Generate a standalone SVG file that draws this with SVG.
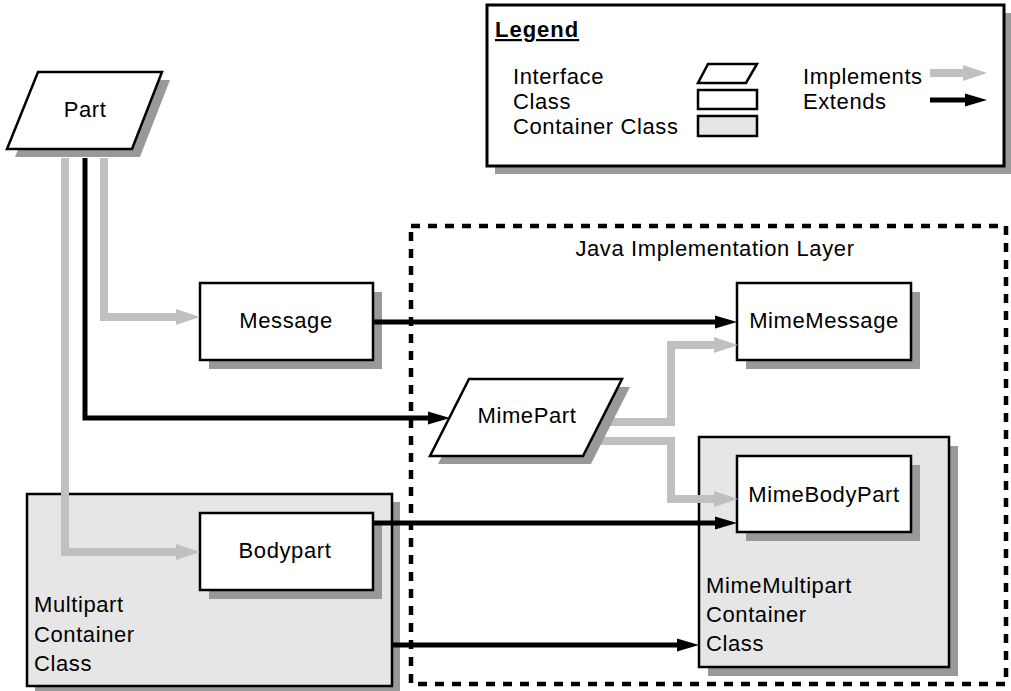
<svg xmlns="http://www.w3.org/2000/svg" width="1011" height="691" viewBox="0 0 1011 691">
<style>
text{font-family:"Liberation Sans",Arial,sans-serif;font-size:22px;letter-spacing:0.6px;fill:#000}
.c{text-anchor:middle}
.node{fill:#fff;stroke:#000;stroke-width:2.5}
.cont{fill:#e6e6e6;stroke:#000;stroke-width:2.5}
.sh{fill:#999}
.impl{fill:none;stroke:#c0c0c0;stroke-width:8;stroke-linejoin:miter}
.ext{fill:none;stroke:#000;stroke-width:5;stroke-linejoin:miter}
</style>
<defs>
<marker id="ag" markerUnits="userSpaceOnUse" markerWidth="26" markerHeight="18" viewBox="0 -9 26 18" refX="0" refY="0" orient="auto"><path d="M0,-8 L24,0 L0,8 z" fill="#c0c0c0"/></marker>
<marker id="ab" markerUnits="userSpaceOnUse" markerWidth="24" markerHeight="14" viewBox="0 -7 24 14" refX="0" refY="0" orient="auto"><path d="M0,-6.5 L22,0 L0,6.5 z" fill="#000"/></marker>
</defs>
<rect width="1011" height="691" fill="#fff"/>

<g id="legend">
<rect class="sh" x="495" y="13" width="517" height="161"/>
<rect x="487" y="5" width="517" height="161" fill="#fff" stroke="#000" stroke-width="3"/>
<text x="495" y="37" font-weight="bold" text-decoration="underline" style="letter-spacing:1px">Legend</text>
<text x="513" y="84">Interface</text>
<text x="513" y="109">Class</text>
<text x="513" y="134">Container Class</text>
<polygon class="node" points="708,64 757,64 746,83 698,83"/>
<rect class="node" x="698" y="90" width="59" height="19"/>
<rect class="cont" x="698" y="116" width="59" height="20"/>
<text x="803" y="84">Implements</text>
<text x="803" y="109">Extends</text>
<path class="impl" d="M930,73 H963" marker-end="url(#ag)"/>
<path class="ext" d="M930,100 H965" marker-end="url(#ab)"/>
</g>

<g id="layer">
<rect x="411" y="226" width="595" height="458" fill="none" stroke="#000" stroke-width="4.5" stroke-dasharray="9 8"/>
<text class="c" x="715" y="256">Java Implementation Layer</text>
</g>

<g id="multipart">
<rect class="sh" x="35" y="502" width="365" height="192"/>
<rect class="cont" x="27" y="494" width="365" height="192"/>
<text x="34" y="612">Multipart</text>
<text x="34" y="642">Container</text>
<text x="34" y="671">Class</text>
</g>

<g id="mimemultipart">
<rect class="sh" x="708" y="446" width="250" height="230"/>
<rect class="cont" x="699" y="437" width="250" height="230"/>
<text x="706" y="593">MimeMultipart</text>
<text x="706" y="622">Container</text>
<text x="706" y="651">Class</text>
</g>

<g id="part">
<polygon class="sh" points="46,80 170,80 140,157 15,157"/>
<polygon class="node" points="38,72 162,72 132,149 7,149"/>
<text class="c" x="85" y="117">Part</text>
</g>

<g id="message">
<rect class="sh" x="209" y="292" width="173" height="77"/>
<rect class="node" x="200" y="283" width="173" height="77"/>
<text class="c" x="286" y="328">Message</text>
</g>

<g id="mimemessage">
<rect class="sh" x="746" y="292" width="174" height="77"/>
<rect class="node" x="737" y="283" width="174" height="77"/>
<text class="c" x="824" y="328">MimeMessage</text>
</g>

<g id="mimebodypart">
<rect class="sh" x="746" y="465" width="174" height="76"/>
<rect class="node" x="737" y="456" width="174" height="76"/>
<text class="c" x="824" y="502">MimeBodyPart</text>
</g>

<g id="bodypart">
<rect class="sh" x="209" y="522" width="173" height="77"/>
<rect class="node" x="200" y="513" width="173" height="77"/>
<text class="c" x="285" y="558">Bodypart</text>
</g>

<g id="connectors">
<path class="impl" d="M104,158 V317 H176" marker-end="url(#ag)"/>
<path class="ext" d="M85,158 V418 H428" marker-end="url(#ab)"/>
<path class="impl" d="M65,158 V552 H176" marker-end="url(#ag)"/>
<path class="ext" d="M373,322 H715" marker-end="url(#ab)"/>
<path class="impl" d="M590,422 H671 V345 H714" marker-end="url(#ag)"/>
<path class="impl" d="M585,441 H671 V499 H714" marker-end="url(#ag)"/>
<path class="ext" d="M373,523 H715" marker-end="url(#ab)"/>
<path class="ext" d="M392,645 H677" marker-end="url(#ab)"/>
</g>

<g id="mimepart">
<polygon class="sh" points="477,387 630,387 591,464 438,464"/>
<polygon class="node" points="469,379 622,379 583,456 430,456"/>
<text class="c" x="527" y="423">MimePart</text>
</g>
</svg>
